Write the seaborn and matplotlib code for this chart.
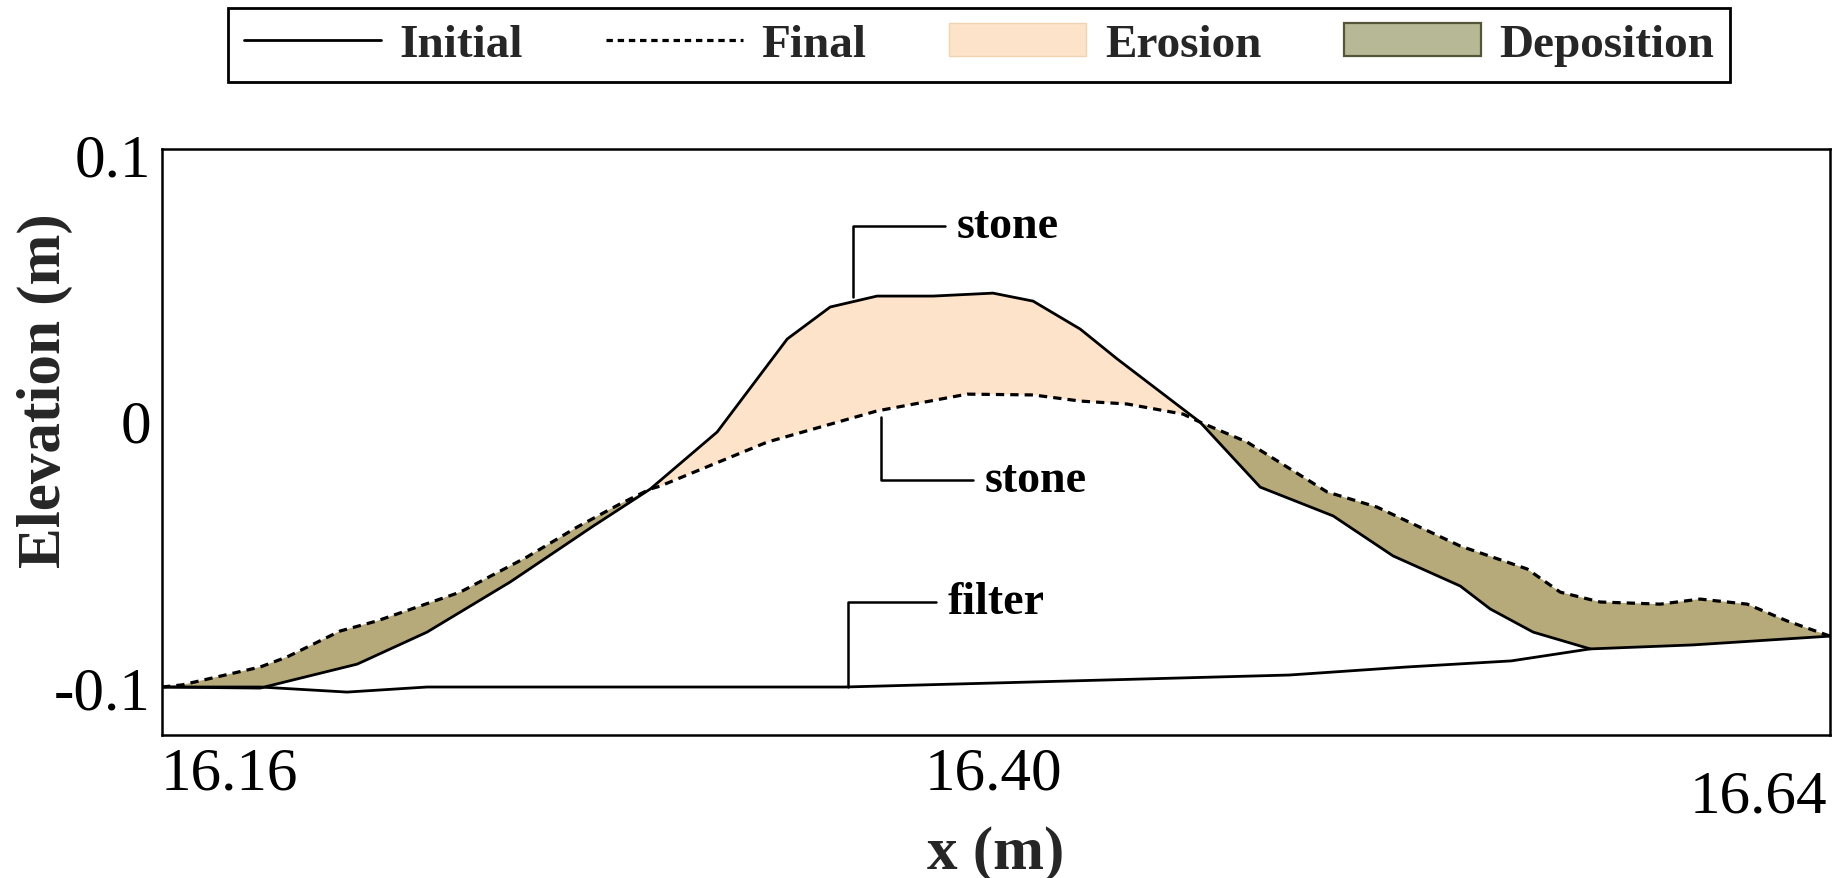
import numpy as np
import matplotlib
matplotlib.use("Agg")
import matplotlib.pyplot as plt
from matplotlib.patches import Patch
from matplotlib.lines import Line2D
from matplotlib.transforms import ScaledTranslation
import seaborn as sns

# Bed profiles along the flume (x in m, elevation in m)
initial_x = [16.1389, 16.1697, 16.2002, 16.2221, 16.2482, 16.2743, 16.2922, 16.3132,
             16.3352, 16.3487, 16.3634, 16.3810, 16.3998, 16.4124, 16.4272, 16.4388,
             16.4648, 16.4837, 16.5066, 16.5254, 16.5465, 16.5559, 16.5694, 16.5873,
             16.6196, 16.6626]
initial_z = [-0.1000, -0.1004, -0.0914, -0.0794, -0.0606, -0.0396, -0.0257, -0.0043,
             0.0306, 0.0426, 0.0467, 0.0467, 0.0478, 0.0448, 0.0343, 0.0231,
             -0.0006, -0.0250, -0.0358, -0.0508, -0.0621, -0.0707, -0.0794, -0.0857,
             -0.0842, -0.0809]

final_x = [16.1389, 16.1452, 16.1697, 16.1782, 16.1948, 16.2064, 16.2325, 16.2535,
           16.2692, 16.2827, 16.2922, 16.2953, 16.3289, 16.3634, 16.3917, 16.4124,
           16.4272, 16.4419, 16.4595, 16.4648, 16.4796, 16.5047, 16.5204, 16.5465,
           16.5675, 16.5779, 16.5904, 16.6093, 16.6218, 16.6366, 16.6491, 16.6626]
final_z = [-0.1000, -0.0992, -0.0925, -0.0887, -0.0790, -0.0752, -0.0644, -0.0512,
           -0.0400, -0.0313, -0.0257, -0.0246, -0.0081, 0.0036, 0.0099, 0.0096,
           0.0073, 0.0062, 0.0024, -0.0006, -0.0081, -0.0268, -0.0325, -0.0471,
           -0.0557, -0.0644, -0.0681, -0.0689, -0.0670, -0.0689, -0.0752, -0.0809]

filter_x = [16.1389, 16.1697, 16.1970, 16.2221, 16.3531, 16.4000, 16.4928, 16.5295,
            16.5625, 16.5873]
filter_z = [-0.1000, -0.1000, -0.1019, -0.1000, -0.1000, -0.0985, -0.0955, -0.0925,
            -0.0902, -0.0857]

x_ticks = [16.16, 16.40, 16.64]
x_tick_labels = ["16.16", "16.40", "16.64"]
y_ticks = [-0.1, 0.0, 0.1]
y_tick_labels = ["-0.1", "0", "0.1"]

# Layer labels: (text, point on the layer, text position)
layer_labels = [
    ("stone", (16.3557, 0.0463), (16.3885, 0.0730)),
    ("stone", (16.3647, 0.0013), (16.3973, -0.0223)),
    ("filter", (16.3543, -0.1000), (16.3857, -0.0681)),
]

erosion_color = "#fde3ca"
deposition_color = "#b6aa7b"
deposition_legend_color = "#b7b996"

sns.set_theme(style="white")
plt.rcParams["font.family"] = ["Liberation Serif", "DejaVu Serif"]

fig = plt.figure(figsize=(18.37, 8.79), dpi=100)
ax = fig.add_axes([0.0882, 0.1627, 0.9962 - 0.0882, 0.8294 - 0.1627])

# Erosion / deposition areas between the two profiles on a shared grid
grid = np.union1d(initial_x, final_x)
zi = np.interp(grid, initial_x, initial_z)
zf = np.interp(grid, final_x, final_z)
ax.fill_between(grid, zf, zi, where=zi >= zf, interpolate=True,
                color=erosion_color, linewidth=0, zorder=1)
ax.fill_between(grid, zi, zf, where=zf >= zi, interpolate=True,
                color=deposition_color, linewidth=0, zorder=1)

sns.lineplot(x=filter_x, y=filter_z, ax=ax, color="black", linewidth=2.0,
             sort=False, zorder=3)
sns.lineplot(x=initial_x, y=initial_z, ax=ax, color="black", linewidth=2.0,
             sort=False, zorder=3)
sns.lineplot(x=final_x, y=final_z, ax=ax, color="black", linewidth=2.3,
             linestyle=(0, (2.6, 1.9)), sort=False, zorder=4)

for text, xy, xytext in layer_labels:
    ax.annotate(text, xy=xy, xytext=xytext, ha="left", va="center",
                fontsize=33, fontweight="bold", color="black",
                arrowprops=dict(arrowstyle="-", color="black", lw=1.8,
                                shrinkA=6, shrinkB=0,
                                connectionstyle="angle,angleA=0,angleB=90,rad=0"))

ax.set_xlim(16.1389, 16.6626)
ax.set_ylim(-0.1180, 0.1019)

ax.set_xticks(x_ticks)
ax.set_xticklabels(x_tick_labels)
ax.set_yticks(y_ticks)
ax.set_yticklabels(y_tick_labels)
ax.set_xticks([16.40], minor=True)
ax.set_yticks([0.0], minor=True)
ax.tick_params(axis="both", which="major", length=0, labelsize=44, colors="black")
ax.tick_params(axis="x", which="major", pad=8)
ax.tick_params(axis="y", which="major", pad=8)
ax.tick_params(axis="both", which="minor", direction="in", length=13, width=1.6,
               color="black", labelsize=0)

for spine in ax.spines.values():
    spine.set_visible(True)
    spine.set_color("black")
    spine.set_linewidth(1.8)

ax.set_xlabel("x (m)", fontsize=44, fontweight="bold", labelpad=0)
ax.set_ylabel("Elevation (m)", fontsize=44, fontweight="bold")
ax.yaxis.label.set_va("center")
ax.yaxis.set_label_coords(-0.070, 0.59)
ax.grid(False)

# The right-hand x label sits a little lower than the others
fig.canvas.draw()
last = ax.get_xticklabels()[-1]
last.set_transform(last.get_transform() + ScaledTranslation(0, -0.23, fig.dpi_scale_trans))

handles = [
    Line2D([], [], color="black", linewidth=2.0),
    Line2D([], [], color="black", linewidth=2.3, linestyle=(0, (2.0, 1.5))),
    Patch(facecolor=erosion_color, edgecolor="#f3d2b3", linewidth=1.0),
    Patch(facecolor=deposition_legend_color, edgecolor="#55553a", linewidth=1.6),
]
labels = ["Initial", "Final", "Erosion", "Deposition"]
leg = fig.legend(handles, labels, loc="center", bbox_to_anchor=(0.533, 0.948),
                 ncol=4, frameon=True, fancybox=False, framealpha=1,
                 edgecolor="black", handlelength=2.9, handletextpad=0.4,
                 columnspacing=1.75, borderpad=0.33,
                 prop={"size": 34, "weight": "bold"})
leg.get_frame().set_linewidth(2.0)

fig.savefig("out.png", dpi=100)
